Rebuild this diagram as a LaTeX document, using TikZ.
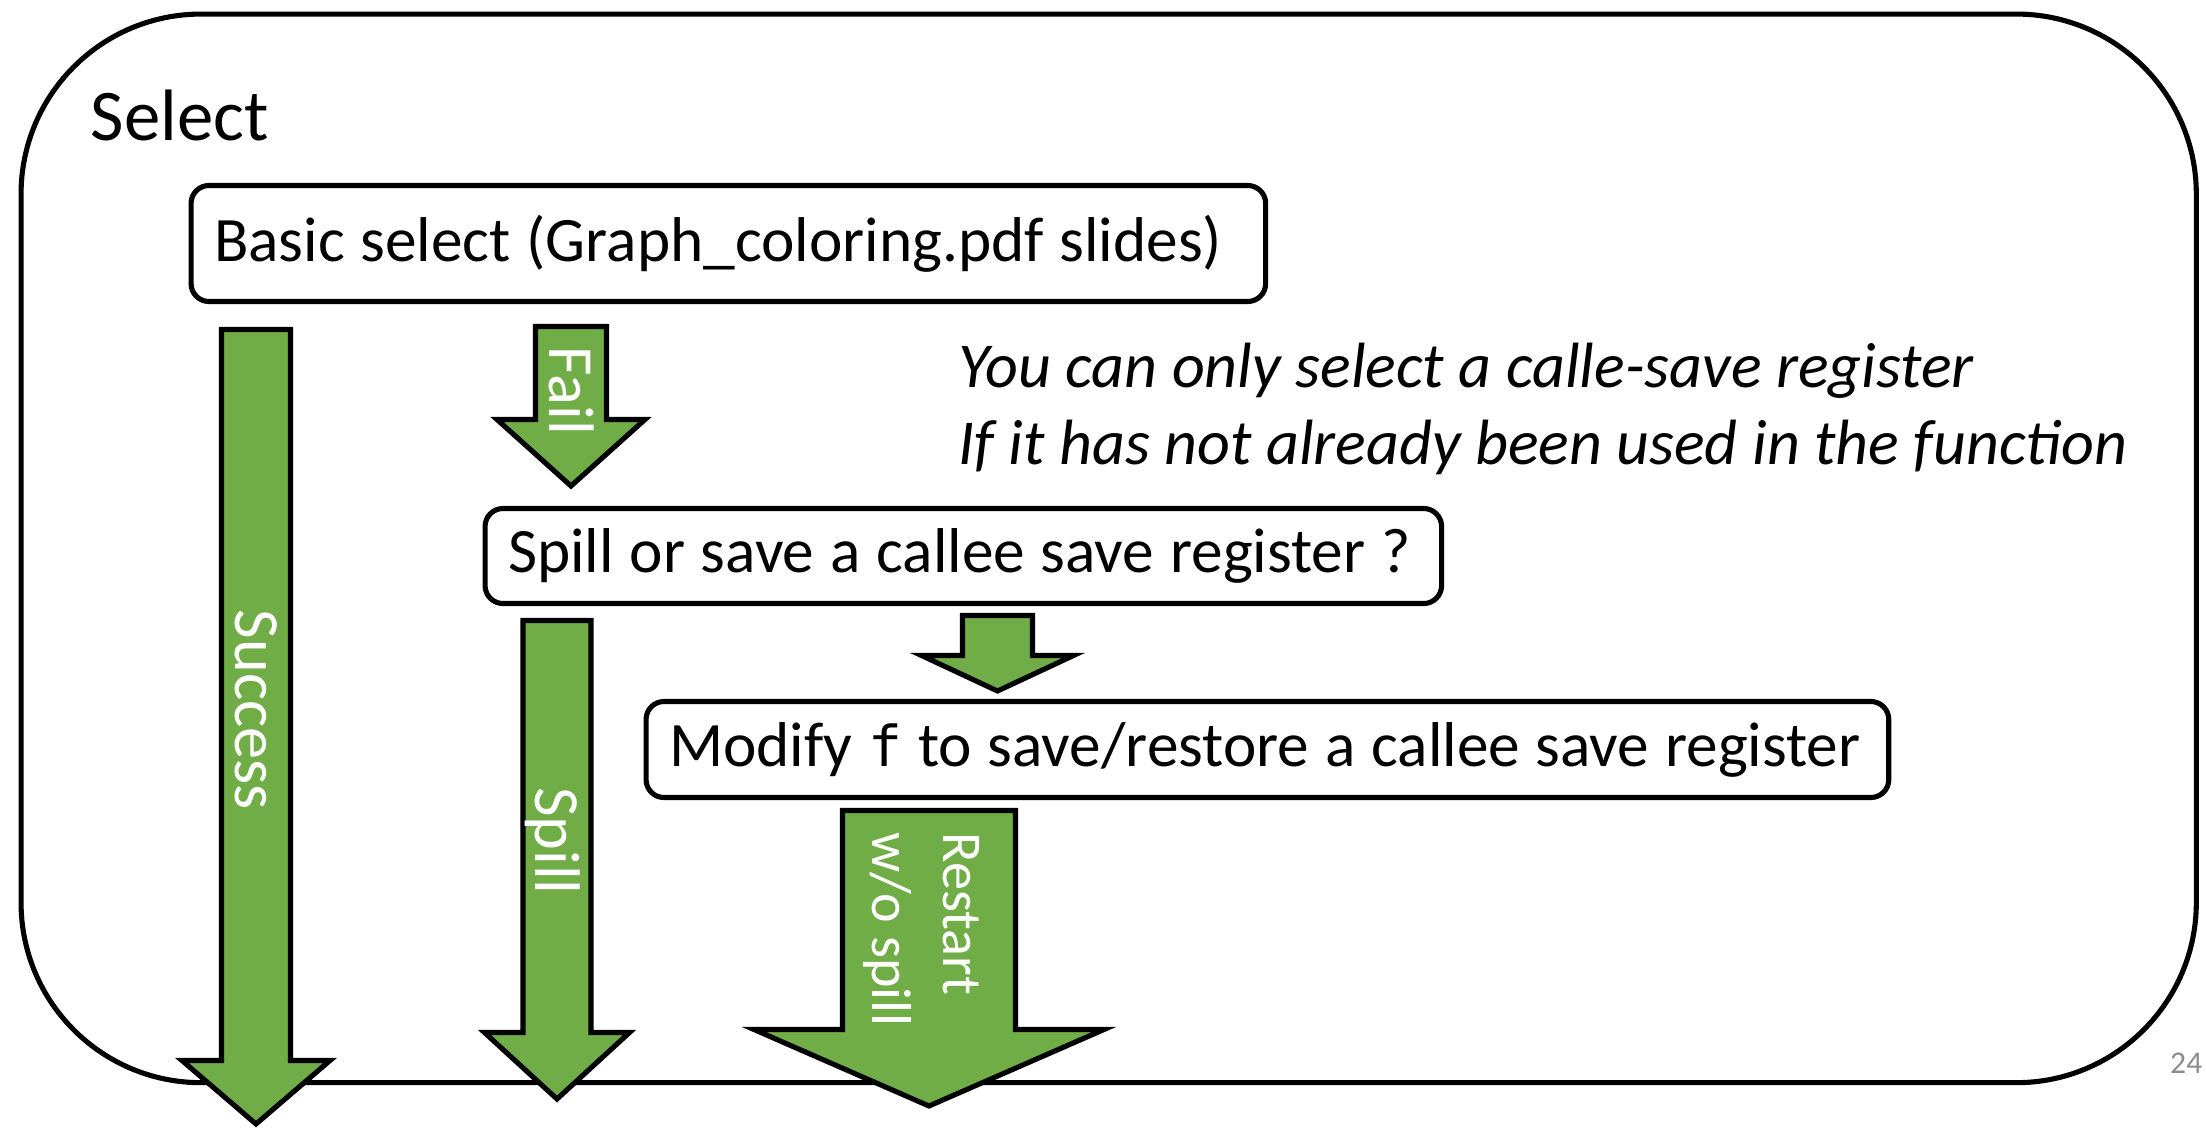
\documentclass[tikz,border=0pt]{standalone}
\usepackage{fontspec}
\setmainfont{Carlito}
\newfontfamily\codefont{DejaVu Sans Mono}
\definecolor{leaf}{HTML}{70AD47}
\definecolor{pagegray}{HTML}{8C8C8C}

% block arrow: centre x, top, shaft half width, shoulder y, head half width, tip y
\newcommand\blockarrow[6]{%
  \draw[flowarrow] (#1-#3,#2) -- (#1+#3,#2) -- (#1+#3,#4) -- (#1+#5,#4)
    -- (#1,#6) -- (#1-#5,#4) -- (#1-#3,#4) -- cycle;}
% one unbreakable line with fixed word spacing
\newcommand\boxline[1]{\mbox{\spaceskip=0.25em\relax #1}}

\begin{document}
\begin{tikzpicture}[x=0.01cm,y=-0.01cm,
  frame/.style={draw=black,line width=1.45pt,rounded corners=1.8cm,
    anchor=north west,inner sep=0pt},
  stepbox/.style={draw=black,line width=1.45pt,rounded corners=0.18cm,
    anchor=west,align=left,inner xsep=0.23cm,inner ysep=0pt,
    font=\fontsize{18}{22}\selectfont},
  flowarrow/.style={fill=leaf,draw=black,line width=1.45pt,line join=miter},
  arrowlbl/.style={text=white,rotate=-90,inner sep=0pt,
    font=\fontsize{18.3}{21}\selectfont},
  plain/.style={inner sep=0pt,font=\fontsize{20.7}{24}\selectfont},
  remark/.style={inner sep=0pt,anchor=base west,font=\itshape\fontsize{18.2}{22}\selectfont},
  ]
\useasboundingbox (0,0) rectangle (2206,1130);

% enclosing "Select" frame
\node[frame,minimum width=21.74cm,minimum height=10.68cm] (selectframe) at (18.5,11.5) {};
\node[plain,anchor=base west] (title) at (90,140) {Select};

% process boxes
\node[stepbox,text width=10.28cm,minimum height=1.16cm] (basic) at (188.5,243.5)
  {\boxline{Basic select (Graph\_coloring.pdf slides)}};
\node[stepbox,text width=9.10cm,minimum height=0.95cm] (spillq) at (482.5,556)
  {\boxline{Spill or save a callee save register ?}};
\node[stepbox,text width=11.96cm,minimum height=0.96cm] (modify) at (643.5,749.5)
  {\boxline{Modify {\codefont\fontsize{16}{20}\selectfont f} to save/restore a callee save register}};

% remark
\node[remark] (note1) at (958,387) {You can only select a calle-save register};
\node[remark] (note2) at (958,464) {If it has not already been used in the function};

% flow arrows
\blockarrow{256}{329.5}{34.5}{1060.5}{74}{1124}
\blockarrow{571}{326.5}{35.5}{419.5}{74}{486}
\blockarrow{557}{620.5}{34}{1032.5}{72.5}{1099}
\blockarrow{997.5}{615.5}{35}{655.5}{76}{691}
\blockarrow{929}{810.5}{86.5}{1029.5}{175}{1106}

% arrow labels
\node[arrowlbl] (success) at (256,710) {Success};
\node[arrowlbl] (fail) at (572,391) {Fail};
\node[arrowlbl] (spill) at (553,841) {Spill};
\node[arrowlbl,align=left,anchor=north west,font=\fontsize{16}{20}\selectfont] (restart) at (980,832)
  {Restart\\w/o spill};

% page number
\node[inner sep=0pt,anchor=base east,text=pagegray,font=\fontsize{9}{11}\selectfont] (pageno) at (2203,1073) {24};
\end{tikzpicture}
\end{document}
